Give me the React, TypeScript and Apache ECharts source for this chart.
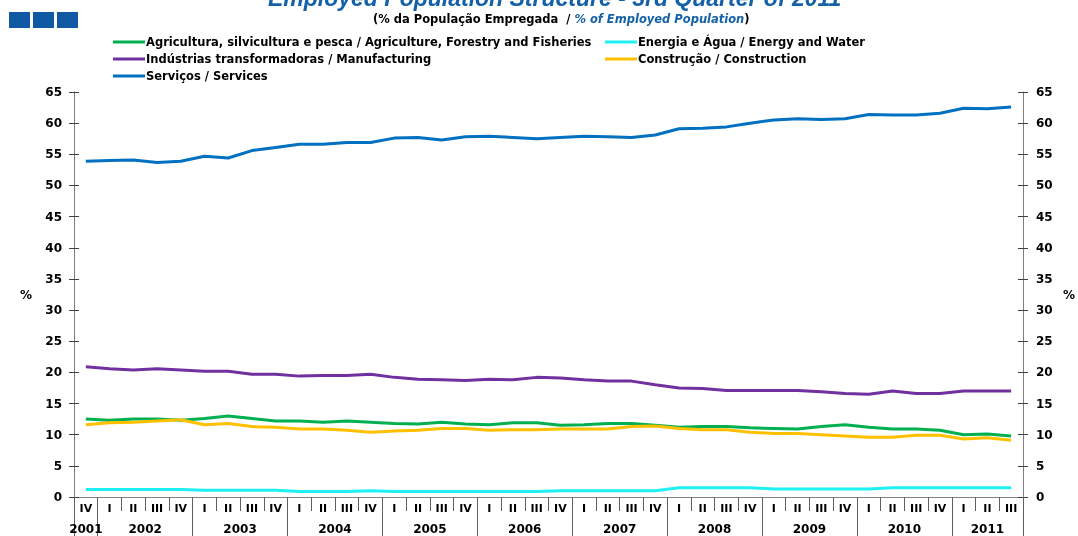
import React, { useEffect, useRef } from "react";
import * as echarts from "echarts";

const years = ["2001", "2002", "2003", "2004", "2005", "2006", "2007", "2008", "2009", "2010", "2011"];
const quarterNames = ["I", "II", "III", "IV"];
const firstYearQuarters = [3];
const lastYearQuarters = [0, 1, 2];

const seriesNames = [
  "Agricultura, silvicultura e pesca / Agriculture, Forestry and Fisheries",
  "Indústrias transformadoras / Manufacturing",
  "Serviços / Services",
  "Energia e Água / Energy and Water",
  "Construção / Construction",
];

const agriculture = [12.5, 12.3, 12.5, 12.5, 12.3, 12.6, 13.0, 12.6, 12.2, 12.2, 12.0, 12.2, 12.0, 11.8, 11.7, 12.0, 11.7, 11.6, 11.9, 11.9, 11.5, 11.6, 11.8, 11.8, 11.5, 11.2, 11.3, 11.3, 11.1, 11.0, 10.9, 11.3, 11.6, 11.2, 10.9, 10.9, 10.7, 10.0, 10.1, 9.8];
const manufacturing = [20.9, 20.6, 20.4, 20.6, 20.4, 20.2, 20.2, 19.7, 19.7, 19.4, 19.5, 19.5, 19.7, 19.2, 18.9, 18.8, 18.7, 18.9, 18.8, 19.2, 19.1, 18.8, 18.6, 18.6, 18.0, 17.5, 17.4, 17.1, 17.1, 17.1, 17.1, 16.9, 16.6, 16.5, 17.0, 16.6, 16.6, 17.0, 17.0, 17.0];
const services = [53.9, 54.0, 54.1, 53.7, 53.9, 54.7, 54.4, 55.6, 56.1, 56.6, 56.6, 56.9, 56.9, 57.6, 57.7, 57.3, 57.8, 57.9, 57.7, 57.5, 57.7, 57.9, 57.8, 57.7, 58.1, 59.1, 59.2, 59.4, 60.0, 60.5, 60.7, 60.6, 60.7, 61.4, 61.3, 61.3, 61.6, 62.4, 62.3, 62.6];
const energy = [1.2, 1.2, 1.2, 1.2, 1.2, 1.1, 1.1, 1.1, 1.1, 0.9, 0.9, 0.9, 1.0, 0.9, 0.9, 0.9, 0.9, 0.9, 0.9, 0.9, 1.0, 1.0, 1.0, 1.0, 1.0, 1.5, 1.5, 1.5, 1.5, 1.3, 1.3, 1.3, 1.3, 1.3, 1.5, 1.5, 1.5, 1.5, 1.5, 1.5];
const construction = [11.6, 11.9, 12.0, 12.2, 12.4, 11.6, 11.8, 11.3, 11.2, 10.9, 10.9, 10.7, 10.4, 10.6, 10.7, 11.0, 11.0, 10.7, 10.8, 10.8, 10.9, 10.9, 10.9, 11.3, 11.4, 11.0, 10.8, 10.8, 10.4, 10.2, 10.2, 10.0, 9.8, 9.6, 9.6, 9.9, 9.9, 9.3, 9.5, 9.1];

const seriesValues = [agriculture, manufacturing, services, energy, construction];
const seriesColors = ["#00b050", "#7030a0", "#0070c0", "#1ef0f4", "#ffc000"];

const FONT = "'DejaVu Sans', Arial, sans-serif";
const TITLE_FONT = "'Liberation Sans', Arial, sans-serif";

export default function App() {
  const ref = useRef<HTMLDivElement>(null);

  useEffect(() => {
    document.body.style.margin = "0";
    if (!ref.current) return;
    const chart = echarts.init(ref.current, null, { renderer: "svg" });

    const categories: string[] = [];
    const groups: { year: string; start: number; n: number }[] = [];
    years.forEach((y, yi) => {
      const qs = yi === 0 ? firstYearQuarters : yi === years.length - 1 ? lastYearQuarters : [0, 1, 2, 3];
      groups.push({ year: y, start: categories.length, n: qs.length });
      qs.forEach((q) => categories.push(quarterNames[q]));
    });
    const yearSlots: string[] = new Array(categories.length * 2 + 1).fill("");
    groups.forEach((g) => {
      yearSlots[2 * g.start + g.n] = g.year;
    });
    const boundaries = new Set<number>(groups.map((g) => 2 * g.start));
    boundaries.add(categories.length * 2);

    const yBase = {
      type: "value",
      min: 0,
      max: 65,
      interval: 5,
      splitLine: { show: false },
    };
    const labelText = { fontSize: 12, fontWeight: "bold", color: "#000", fontFamily: FONT };
    const legendText = { fontSize: 11.5, fontWeight: "bold", color: "#000", fontFamily: FONT, padding: [0, 0, 0, -4] };

    chart.setOption({
      animation: false,
      textStyle: { fontFamily: FONT },
      title: [
        {
          text: "Employed Population Structure - 3rd Quarter of 2011",
          left: 263,
          top: -19,
          textStyle: { fontSize: 23, fontWeight: "bold", fontStyle: "italic", color: "#1461a8", fontFamily: TITLE_FONT },
        },
        {
          text: "{a|(% da População Empregada  / }{b|% of Employed Population}{a|)}",
          left: 368,
          top: 8,
          textStyle: {
            rich: {
              a: { fontSize: 11.5, fontWeight: "bold", color: "#000", fontFamily: FONT },
              b: { fontSize: 11.5, fontWeight: "bold", fontStyle: "italic", color: "#1461a8", fontFamily: FONT },
            },
          },
        },
      ],
      graphic: [
        { type: "rect", shape: { x: 9, y: 12, width: 21, height: 16 }, style: { fill: "#0f5aa3" } },
        { type: "rect", shape: { x: 33, y: 12, width: 21, height: 16 }, style: { fill: "#0f5aa3" } },
        { type: "rect", shape: { x: 57, y: 12, width: 21, height: 16 }, style: { fill: "#0f5aa3" } },
      ],
      legend: [
        {
          data: [seriesNames[0], seriesNames[1], seriesNames[2]],
          orient: "vertical",
          left: 113,
          top: 36,
          padding: 0,
          itemWidth: 32,
          itemHeight: 3,
          itemGap: 5,
          icon: "rect",
          textStyle: legendText,
        },
        {
          data: [seriesNames[3], seriesNames[4]],
          orient: "vertical",
          left: 605,
          top: 36,
          padding: 0,
          itemWidth: 32,
          itemHeight: 3,
          itemGap: 5,
          icon: "rect",
          textStyle: legendText,
        },
      ],
      grid: { left: 74, right: 50, top: 92, bottom: 39, containLabel: false },
      xAxis: [
        {
          type: "category",
          data: categories,
          position: "bottom",
          boundaryGap: true,
          axisLine: { lineStyle: { color: "#808080", width: 1 } },
          axisTick: { show: true, interval: 0, length: 14, lineStyle: { color: "#606060" } },
          axisLabel: { interval: 0, margin: 6, fontSize: 11, fontWeight: "bold", color: "#000", fontFamily: FONT },
        },
        {
          type: "category",
          data: yearSlots.map((_, i) => String(i)),
          position: "bottom",
          boundaryGap: false,
          axisLine: { show: false },
          axisTick: {
            show: true,
            interval: (index: number) => boundaries.has(index),
            length: 40,
            lineStyle: { color: "#606060" },
          },
          axisLabel: {
            interval: 0,
            margin: 26,
            fontSize: 12,
            fontWeight: "bold",
            color: "#000",
            fontFamily: FONT,
            formatter: (_v: string, i: number) => yearSlots[i],
          },
        },
      ],
      yAxis: [
        {
          ...yBase,
          position: "left",
          name: "%",
          nameLocation: "middle",
          nameRotate: 0,
          nameGap: 42,
          nameTextStyle: labelText,
          axisLine: { show: true, lineStyle: { color: "#808080" } },
          axisTick: { show: true, length: 5, lineStyle: { color: "#404040" } },
          axisLabel: { margin: 12, ...labelText },
        },
        {
          ...yBase,
          position: "left",
          axisLine: { show: false },
          axisTick: { show: true, inside: true, length: 5, lineStyle: { color: "#404040" } },
          axisLabel: { show: false },
        },
        {
          ...yBase,
          position: "right",
          name: "%",
          nameLocation: "middle",
          nameRotate: 0,
          nameGap: 40,
          nameTextStyle: labelText,
          axisLine: { show: true, lineStyle: { color: "#808080" } },
          axisTick: { show: true, length: 5, lineStyle: { color: "#404040" } },
          axisLabel: { margin: 13, ...labelText },
        },
        {
          ...yBase,
          position: "right",
          axisLine: { show: false },
          axisTick: { show: true, inside: true, length: 5, lineStyle: { color: "#404040" } },
          axisLabel: { show: false },
        },
      ],
      series: seriesNames.map((name, i) => ({
        name,
        type: "line",
        data: seriesValues[i],
        xAxisIndex: 0,
        yAxisIndex: 0,
        symbol: "none",
        smooth: false,
        lineStyle: { width: 3, color: seriesColors[i] },
        itemStyle: { color: seriesColors[i] },
      })),
    });

    return () => chart.dispose();
  }, []);

  return <div ref={ref} style={{ position: "fixed", left: 0, top: 0, width: 1078, height: 536 }} />;
}
